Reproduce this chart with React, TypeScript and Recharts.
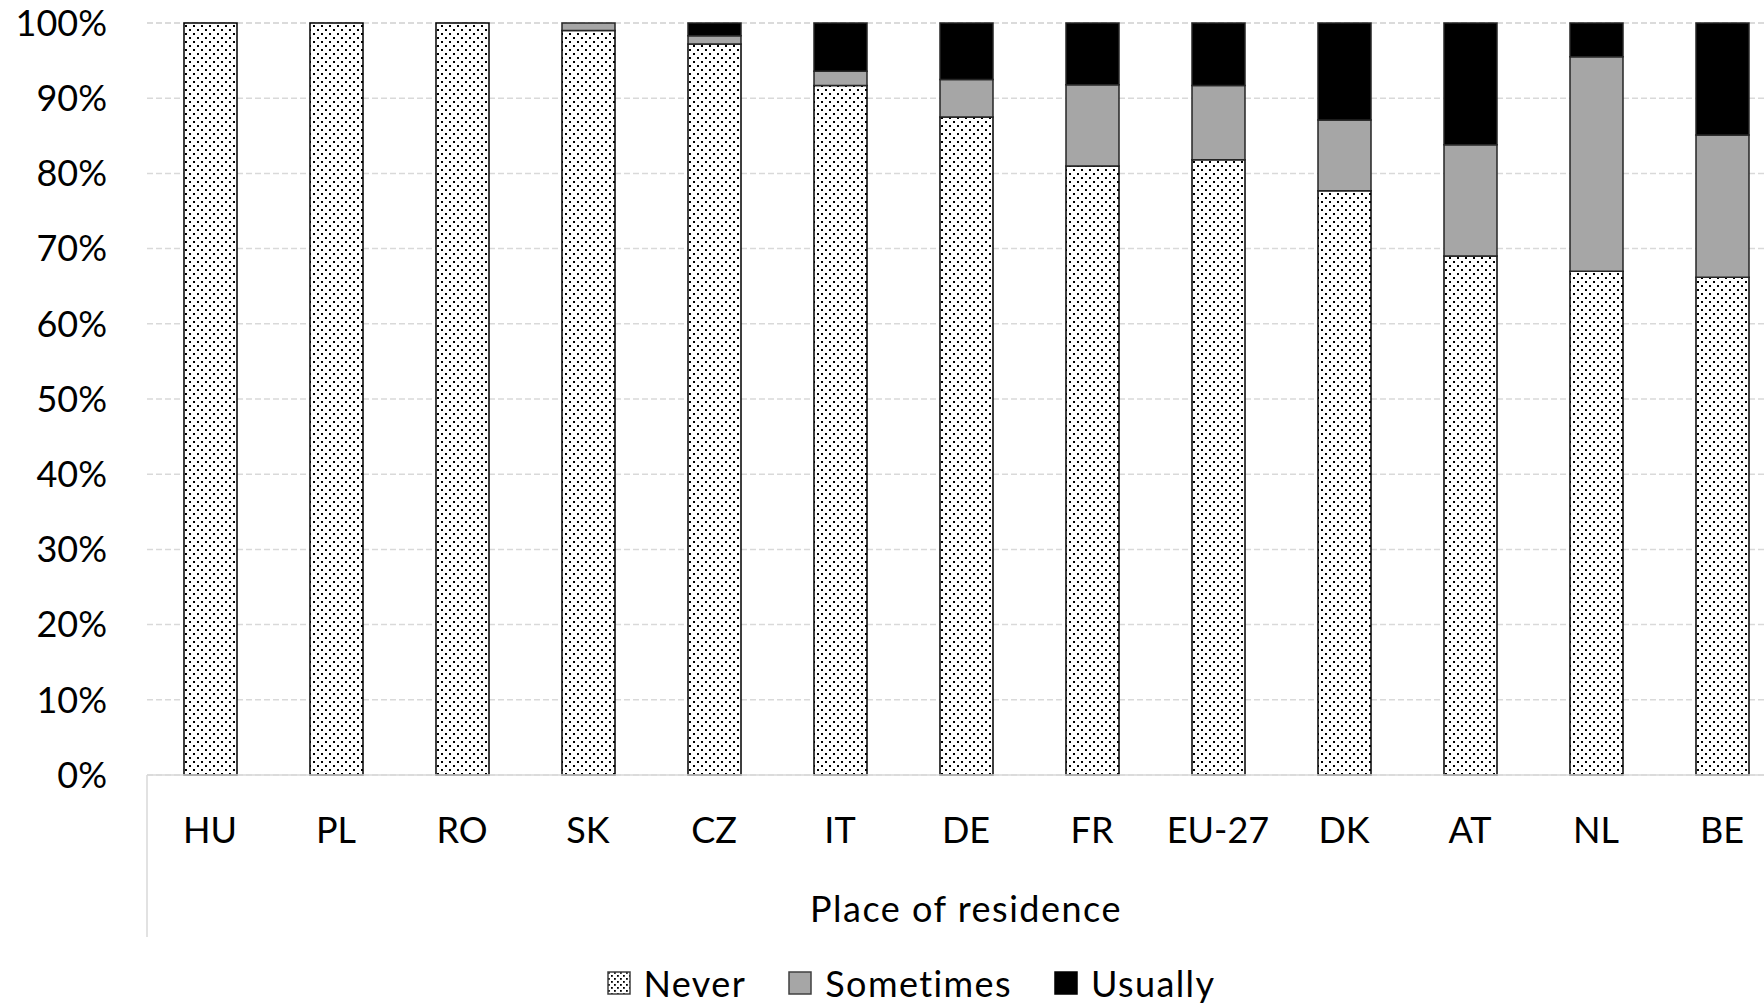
import React from "react";
import { BarChart, Bar, XAxis, YAxis, CartesianGrid, Legend, Customized, Label } from "recharts";

const categories = ["HU", "PL", "RO", "SK", "CZ", "IT", "DE", "FR", "EU-27", "DK", "AT", "NL", "BE"];
const never = [100, 100, 100, 99.0, 97.2, 91.7, 87.5, 81.0, 81.8, 77.7, 69.0, 67.0, 66.2];
const sometimes = [0, 0, 0, 1.0, 1.1, 1.9, 5.0, 10.8, 9.9, 9.4, 14.8, 28.5, 18.9];
const usually = [0, 0, 0, 0, 1.7, 6.4, 7.5, 8.2, 8.3, 12.9, 16.2, 4.5, 14.9];
const yTicks = [0, 10, 20, 30, 40, 50, 60, 70, 80, 90, 100];
const seriesNames = ["Never", "Sometimes", "Usually"];

const data = categories.map((c, i) => ({
  name: c,
  Never: never[i],
  Sometimes: sometimes[i],
  Usually: usually[i],
}));

const FONT = "Lato, 'Open Sans', sans-serif";
const W = 1822;
const H = 1004;
const YW = 147;
const XH = 229;
const MARGIN = { top: 23, right: 37, bottom: 0, left: 0 };

const LegendContent = () => {
  const items = [
    { name: seriesNames[0], fill: "url(#dotsLegend)" },
    { name: seriesNames[1], fill: "#a6a6a6" },
    { name: seriesNames[2], fill: "#000" },
  ];
  return (
    <div style={{ display: "flex", justifyContent: "center", alignItems: "center", fontFamily: FONT, fontSize: 36, letterSpacing: "1.4px", color: "#000", height: 44 }}>
      {items.map((it, i) => (
        <div key={it.name} style={{ display: "flex", alignItems: "center", marginLeft: i === 0 ? 0 : 42 }}>
          <svg width={24} height={24} style={{ marginRight: 13 }}>
            <defs>
              <pattern id="dotsLegend" width="6" height="6" patternUnits="userSpaceOnUse">
                <rect width="6" height="6" fill="#fff" />
                <rect x="1" y="1" width="1.8" height="1.8" fill="#000" />
                <rect x="4" y="4" width="1.8" height="1.8" fill="#000" />
              </pattern>
            </defs>
            <rect x={1} y={1} width={22} height={22} fill={it.fill} stroke={i === 2 ? "#000" : "#404040"} strokeWidth={1.5} />
          </svg>
          <span>{it.name}</span>
        </div>
      ))}
    </div>
  );
};

const LeftBorder = () => {
  const x = MARGIN.left + YW;
  const y1 = H - MARGIN.bottom - XH;
  return <line x1={x} x2={x} y1={y1} y2={y1 + 162} stroke="#d9d9d9" strokeWidth={1.5} />;
};

export default function App() {
  return (
    <div style={{ position: "absolute", left: 0, top: 0, width: 1764, height: 1004, overflow: "hidden", background: "#fff", fontFamily: FONT }}>
      <BarChart width={W} height={H} data={data} margin={MARGIN} barSize={53}>
        <defs>
          <pattern id="dots" width="8" height="8" patternUnits="userSpaceOnUse">
            <rect width="8" height="8" fill="#fff" />
            <rect x="1" y="1" width="2" height="2" fill="#000" />
            <rect x="5" y="5" width="2" height="2" fill="#000" />
          </pattern>
        </defs>
        <CartesianGrid vertical={false} stroke="#d9d9d9" strokeWidth={1.5} strokeDasharray="6 3" />
        <XAxis
          dataKey="name"
          height={XH}
          axisLine={{ stroke: "#d9d9d9", strokeWidth: 1.5 }}
          tickLine={false}
          tickMargin={36}
          interval={0}
          tick={{ fontSize: 36, fill: "#000", fontFamily: FONT }}
        >
          <Label value="Place of residence" position="insideTop" offset={121} style={{ fontSize: 36, fill: "#000", fontFamily: FONT, letterSpacing: "1.5px" }} />
        </XAxis>
        <YAxis
          width={YW}
          domain={[0, 100]}
          ticks={yTicks}
          axisLine={false}
          tickLine={false}
          tickMargin={34}
          tickFormatter={(v) => `${v}%`}
          tick={{ fontSize: 36, fill: "#000", fontFamily: FONT }}
        />
        <Legend verticalAlign="middle" align="center" layout="horizontal" wrapperStyle={{ left: 0, top: 961, width: W }} content={<LegendContent />} />
        <Bar dataKey="Never" stackId="a" fill="url(#dots)" stroke="#000" strokeWidth={1.5} isAnimationActive={false} />
        <Bar dataKey="Sometimes" stackId="a" fill="#a6a6a6" stroke="#262626" strokeWidth={1.5} isAnimationActive={false} />
        <Bar dataKey="Usually" stackId="a" fill="#000" stroke="#262626" strokeWidth={1.5} isAnimationActive={false} />
        <Customized component={<LeftBorder />} />
      </BarChart>
    </div>
  );
}
